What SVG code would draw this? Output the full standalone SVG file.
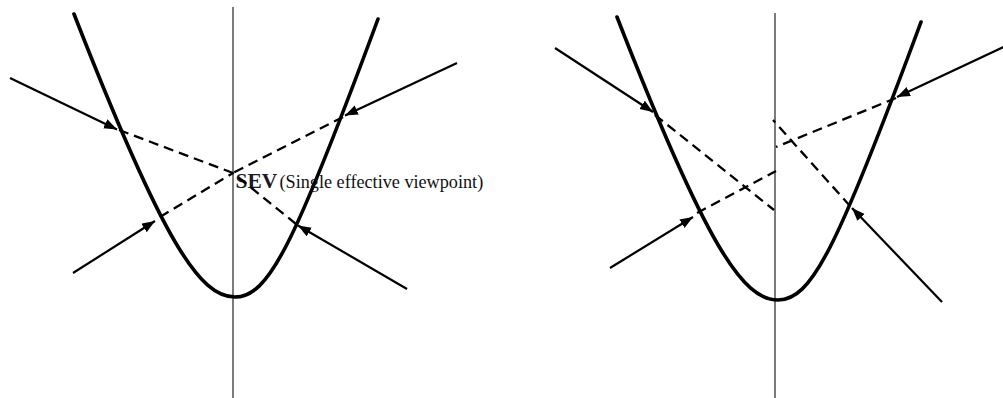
<svg xmlns="http://www.w3.org/2000/svg" width="1003" height="398" viewBox="0 0 1003 398">
<style>
.mirror{fill:none;stroke:#000;stroke-width:3.6;stroke-linecap:round}
.axis{fill:none;stroke:#333;stroke-width:1.3}
.ray{fill:none;stroke:#000;stroke-width:2.2;marker-end:url(#ah)}
.dash{fill:none;stroke:#000;stroke-width:2.3;stroke-dasharray:10 6}
.big{font-family:"Liberation Serif",serif;font-size:21.5px;font-weight:bold;fill:#1a1a28}
.small{font-family:"Liberation Serif",serif;font-size:18.2px;fill:#111}
</style>
<defs>
<marker id="ah" markerUnits="userSpaceOnUse" markerWidth="15" markerHeight="11" refX="13" refY="5" orient="auto">
<path d="M0,0 L13,5 L0,10 Z" fill="#000"/>
</marker>
</defs>
<rect width="1003" height="398" fill="#fff"/>
<g id="left-panel">
<g id="left-axis"><line class="axis" x1="233" y1="7" x2="233" y2="398"/></g>
<g id="left-mirror"><path class="mirror" d="M74,14 C163.7,244 200,297 235,297 C268,297 293,249 378,19"/></g>
<g id="sev-label">
<text class="big" x="235.5" y="188">SEV</text>
<text class="small" x="279.5" y="188">(Single effective viewpoint)</text>
</g>
</g>
<g id="right-panel">
<g id="right-axis"><line class="axis" x1="775" y1="13" x2="775" y2="398"/></g>
<g id="right-mirror"><path class="mirror" transform="translate(543,3)" d="M74,14 C163.7,244 200,297 235,297 C268,297 293,249 378,19"/></g>
</g>
<g id="connectors">
<line class="ray" x1="10" y1="78" x2="117" y2="129.5"/>
<line class="ray" x1="73" y1="273" x2="155" y2="221"/>
<line class="ray" x1="457" y1="63" x2="345" y2="115.5"/>
<line class="ray" x1="407" y1="289" x2="298" y2="225.5"/>
<line class="dash" x1="119" y1="130" x2="233" y2="173"/>
<line class="dash" x1="160" y1="217" x2="233" y2="173"/>
<line class="dash" x1="343" y1="117" x2="233" y2="173"/>
<line class="dash" x1="296" y1="224" x2="233" y2="173"/>
<line class="ray" x1="555" y1="48" x2="653" y2="112"/>
<line class="ray" x1="610" y1="268" x2="693" y2="217"/>
<line class="ray" x1="1012" y1="43" x2="897" y2="97"/>
<line class="ray" x1="942" y1="302" x2="852" y2="208"/>
<line class="dash" x1="655" y1="115" x2="774" y2="210"/>
<line class="dash" x1="697" y1="213" x2="776" y2="171"/>
<line class="dash" x1="896" y1="98" x2="776" y2="147"/>
<line class="dash" x1="850" y1="206" x2="773" y2="120"/>
</g>
</svg>
